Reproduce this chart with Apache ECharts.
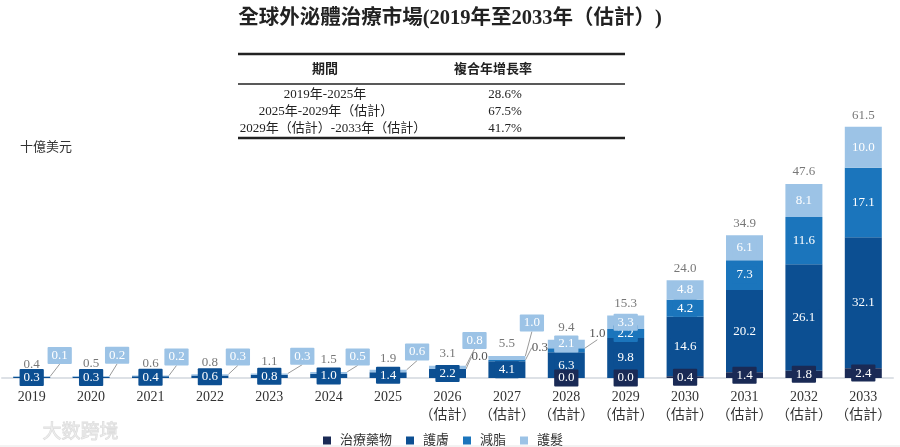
<!DOCTYPE html>
<html><head><meta charset="utf-8">
<script src="https://cdn.jsdelivr.net/npm/echarts@6/dist/echarts.min.js"></script>
<style>html,body{margin:0;padding:0;background:#fff}#c{width:900px;height:447px}</style>
</head><body><div id="c"></div>
<script>
const categories = ['2019','2020','2021','2022','2023','2024','2025','2026\n（估計）','2027\n（估計）','2028\n（估計）','2029\n（估計）','2030\n（估計）','2031\n（估計）','2032\n（估計）','2033\n（估計）'];
const seriesNames = ['治療藥物','護膚','減脂','護髮'];
const drugs    = [null,null,null,null,null,null,null,null,null,0.0,0.0,0.4,1.4,1.8,2.4];
const skincare = [0.3,0.3,0.4,0.6,0.8,1.0,1.4,2.2,4.1,6.3,9.8,14.6,20.2,26.1,32.1];
const fatloss  = [null,null,null,null,null,null,null,0.0,0.3,1.0,2.2,4.2,7.3,11.6,17.1];
const haircare = [0.1,0.2,0.2,0.3,0.3,0.5,0.6,0.8,1.0,2.1,3.3,4.8,6.1,8.1,10.0];
const totals   = [0.4,0.5,0.6,0.8,1.1,1.5,1.9,3.1,5.5,9.4,15.3,24.0,34.9,47.6,61.5];
const cagrPeriods = ['2019年-2025年','2025年-2029年（估計）','2029年（估計）-2033年（估計）'];
const cagrValues  = ['28.6%','67.5%','41.7%'];

// label displacement (layout only)
const hairShift = {0:[28,-21],1:[26,-21],2:[26,-19],3:[28,-18],4:[33,-18],5:[29,-16],6:[29,-19],7:[27,-27],8:[25,-35]};
const fatShift  = {7:[32,-12],8:[33,-13],9:[31,-17]};
const rowCenters = [325,326,333];

const SERIF = '"Liberation Serif","Noto Sans CJK TC",serif';
const colors = ['#1a2a55','#0c4f92','#1b75bc','#9cc3e6'];
const fmt = p => (p.value == null ? '' : Number(p.value).toFixed(1));

function boxLabel(color){
  return {show:true, position:'inside', formatter:fmt, color:'#fff', fontFamily:SERIF, fontSize:13,
    lineHeight:13, backgroundColor:color, padding:[2,4], borderRadius:1};
}

const chart = echarts.init(document.getElementById('c'));
const series = [
  {name:seriesNames[0], type:'bar', stack:'t', data:drugs, barWidth:37, itemStyle:{color:colors[0]},
   label:boxLabel(colors[0]), z:3},
  {name:seriesNames[1], type:'bar', stack:'t', data:skincare, barWidth:37, itemStyle:{color:colors[1]},
   label:boxLabel(colors[1]), z:2},
  {name:seriesNames[2], type:'bar', stack:'t', data:fatloss.map((v,i)=>{
      if (v==null) return null;
      if (fatShift[i]) return {value:v, label:{color:'#555', backgroundColor:'transparent', padding:0}};
      return v;
    }), barWidth:37, itemStyle:{color:colors[2]},
   label:boxLabel(colors[2]),
   labelLine:{show:true, lineStyle:{color:'#9a9a9a', width:1}},
   labelLayout:p=>{const o=fatShift[p.dataIndex]; return o?{dx:o[0],dy:o[1]}:{};}},
  {name:seriesNames[3], type:'bar', stack:'t', data:haircare, barWidth:37, itemStyle:{color:colors[3]},
   label:boxLabel(colors[3]),
   labelLine:{show:true, lineStyle:{color:'#9a9a9a', width:1}},
   labelLayout:p=>{const o=hairShift[p.dataIndex]; return o?{dx:o[0],dy:o[1]}:{};}},
  {name:'total', type:'scatter', data:totals, symbolSize:1, itemStyle:{color:'rgba(0,0,0,0)'},
   label:{show:true, position:'top', distance:5, formatter:p=>p.value.toFixed(1), color:'#555', fontFamily:SERIF, fontSize:13},
   z:5, silent:true}
];

const tableLeft = 238, tableRight = 625;
const graphic = [
  {type:'text', left:20, top:141, style:{text:'十億美元', fill:'#333', font:'13px '+SERIF}},
  {type:'line', shape:{x1:tableLeft,y1:54,x2:tableRight,y2:54}, style:{stroke:'#222', lineWidth:2.5}},
  {type:'line', shape:{x1:tableLeft,y1:84,x2:tableRight,y2:84}, style:{stroke:'#222', lineWidth:1.5}},
  {type:'line', shape:{x1:tableLeft,y1:138,x2:tableRight,y2:138}, style:{stroke:'#222', lineWidth:2.5}},
  {type:'text', x:325, y:70, style:{text:'期間', fill:'#222', font:'bold 13px '+SERIF, align:'center', verticalAlign:'middle'}},
  {type:'text', x:493, y:70, style:{text:'複合年增長率', fill:'#222', font:'bold 13px '+SERIF, align:'center', verticalAlign:'middle'}},
  {type:'text', left:42, top:421, style:{text:'大数跨境', fill:'rgba(225,225,225,0.5)', stroke:'rgba(200,200,200,0.6)', lineWidth:0.8, font:'19px "Noto Sans CJK SC"'}},
  {type:'line', shape:{x1:0,y1:446,x2:900,y2:446}, style:{stroke:'#e6e6e6', lineWidth:1}}
];
cagrPeriods.forEach((t,i)=>{
  const y = 95 + i*17;
  graphic.push({type:'text', x:rowCenters[i], y:y, style:{text:t, fill:'#222', font:'13px '+SERIF, align:'center', verticalAlign:'middle'}});
  graphic.push({type:'text', x:505, y:y, style:{text:cagrValues[i], fill:'#222', font:'13px '+SERIF, align:'center', verticalAlign:'middle'}});
});

chart.setOption({
  animation:false,
  title:{text:'全球外泌體治療市場(2019年至2033年（估計）)', left:'center', top:3,
    textStyle:{fontFamily:SERIF, fontWeight:'bold', fontSize:20.5, color:'#222'}},
  legend:{data:seriesNames, left:318, top:429, icon:'rect', itemWidth:8, itemHeight:8, itemGap:14,
    textStyle:{fontFamily:SERIF, fontSize:13, color:'#333', padding:[0,0,0,4]}},
  grid:{left:2, right:7, top:113, bottom:69, containLabel:false},
  xAxis:{type:'category', data:categories,
    axisLine:{lineStyle:{color:'#dde1e6', width:2}}, axisTick:{show:false},
    axisLabel:{color:'#333', fontFamily:SERIF, fontSize:14, lineHeight:18, margin:10, interval:0}},
  yAxis:{type:'value', min:0, max:65, show:false, splitLine:{show:false}},
  graphic:graphic,
  series:series
});
</script></body></html>
